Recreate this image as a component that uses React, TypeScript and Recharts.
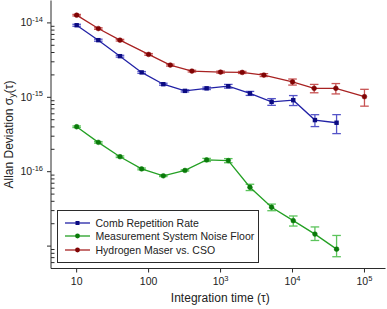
import { LineChart, Line, XAxis, YAxis, ErrorBar, Legend } from 'recharts';

const FONT = '"Liberation Sans", Arial, Helvetica, sans-serif';
const AXIS = '#2b2b2b';

// averaging times (s)
const TAU = [10, 20, 40, 80, 160, 320, 640, 1280, 2560, 5120, 10240, 20480, 40960];
const TAU_MASER = [10, 20, 40, 100, 200, 400, 1000, 2000, 4000, 10000, 20000, 40000, 100000];

const COMB = [9.3e-15, 5.86e-15, 3.57e-15, 2.16e-15, 1.5e-15, 1.22e-15, 1.32e-15, 1.41e-15, 1.13e-15, 8.7e-16, 9.15e-16, 4.94e-16, 4.55e-16];
const COMB_ERR = [0.28e-15, 0.18e-15, 0.1e-15, 0.06e-15, 0.045e-15, 0.04e-15, 0.05e-15, 0.08e-15, 0.07e-15, 0.09e-15, 0.14e-15, 0.09e-15, 0.13e-15];

const FLOOR = [4.02e-16, 2.48e-16, 1.59e-16, 1.09e-16, 8.8e-17, 1.04e-16, 1.44e-16, 1.41e-16, 6.18e-17, 3.33e-17, 2.2e-17, 1.45e-17, 9.1e-18];
const FLOOR_ERR: (number | number[])[] = [0.1e-16, 0.06e-16, 0.04e-16, 0.03e-16, 0.02e-16, 0.02e-16, 0.07e-16, 0.09e-16, 0.6e-17, 0.34e-17, 0.34e-17, [0.26e-17, 0.36e-17], [1.9e-18, 4.8e-18]];

const MASER = [1.27e-14, 8.4e-15, 5.86e-15, 3.77e-15, 2.71e-15, 2.25e-15, 2.18e-15, 2.16e-15, 1.99e-15, 1.61e-15, 1.32e-15, 1.32e-15, 1.02e-15];
const MASER_ERR = [0.03e-14, 0.2e-15, 0.15e-15, 0.1e-15, 0.08e-15, 0.06e-15, 0.07e-15, 0.07e-15, 0.09e-15, 0.15e-15, 0.17e-15, 0.21e-15, 0.26e-15];

const X_TICKS = [10, 100, 1000, 10000, 100000];
const X_LABELS = [['10', ''], ['100', ''], ['10', '3'], ['10', '4'], ['10', '5']];

const Y_MAJOR = [1e-14, 1e-15, 1e-16, 1e-17];
const Y_LABELS = ['-14', '-15', '-16', ''];
const Y_MINOR = [
  2e-15, 3e-15, 4e-15, 5e-15, 6e-15, 7e-15, 8e-15, 9e-15,
  2e-16, 3e-16, 4e-16, 5e-16, 6e-16, 7e-16, 8e-16, 9e-16,
  2e-17, 3e-17, 4e-17, 5e-17, 6e-17, 7e-17, 8e-17, 9e-17,
  6e-18, 7e-18, 8e-18, 9e-18,
];

const SERIES = [
  { key: 'comb', name: 'Comb Repetition Rate', line: '#2222a6', dot: '#0b0b82', err: '#5454c8', square: true },
  { key: 'floor', name: 'Measurement System Noise Floor', line: '#24a024', dot: '#0a7a0a', err: '#5cc45c', square: false },
  { key: 'maser', name: 'Hydrogen Maser vs. CSO', line: '#a82222', dot: '#800404', err: '#c85454', square: false },
];

const combData = TAU.map((t, i) => ({ tau: t, v: COMB[i], err: COMB_ERR[i] }));
const floorData = TAU.map((t, i) => ({ tau: t, v: FLOOR[i], err: FLOOR_ERR[i] }));
const maserData = TAU_MASER.map((t, i) => ({ tau: t, v: MASER[i], err: MASER_ERR[i] }));

const XTick = (props: any) => {
  const { x, y, payload } = props;
  const idx = X_TICKS.indexOf(payload.value);
  const [base, sup] = X_LABELS[idx] || ['', ''];
  return (
    <g>
      <line x1={x} x2={x} y1={y} y2={y + 4} stroke={AXIS} />
      <text x={x} y={y + 16.5} textAnchor="middle" fontSize={10.5} fill="#222" fontFamily={FONT}>
        {base}
        {sup && <tspan dy={-4.5} fontSize={7.5}>{sup}</tspan>}
      </text>
    </g>
  );
};

const YTick = (props: any) => {
  const { x, y, payload } = props;
  const idx = Y_MAJOR.indexOf(payload.value);
  if (idx < 0) {
    return <line x1={x} x2={x + 3.5} y1={y} y2={y} stroke={AXIS} />;
  }
  return (
    <g>
      <line x1={x - 4} x2={x} y1={y} y2={y} stroke={AXIS} />
      {Y_LABELS[idx] && (
        <text x={x - 8} y={y + 3.5} textAnchor="end" fontSize={10.5} fill="#222" fontFamily={FONT}>
          10
          <tspan dy={-4.5} fontSize={7.5}>{Y_LABELS[idx]}</tspan>
        </text>
      )}
    </g>
  );
};

const YLabel = ({ viewBox }: any) => {
  const cx = viewBox.x + 9;
  const cy = viewBox.y + viewBox.height / 2;
  return (
    <text x={cx} y={cy} transform={`rotate(-90, ${cx}, ${cy})`} textAnchor="middle" dominantBaseline="central"
      fontSize={12} fill="#222" fontFamily={FONT}>
      Allan Deviation σ<tspan dy={3} fontSize={9}>y</tspan><tspan dy={-3}>(τ)</tspan>
    </text>
  );
};

const XLabel = ({ viewBox }: any) => (
  <text x={viewBox.x + viewBox.width / 2 + 2} y={viewBox.y + 33.5} textAnchor="middle" fontSize={12} fill="#222" fontFamily={FONT}>
    Integration time (τ)
  </text>
);

const LegendBox = () => (
  <div style={{
    width: 202, height: 53, boxSizing: 'border-box', border: `1px solid ${AXIS}`, background: '#fff',
    padding: '5.5px 0 0 6.5px', fontFamily: FONT, fontSize: 10.5, color: '#222',
  }}>
    {SERIES.map(s => (
      <div key={s.key} style={{ display: 'flex', alignItems: 'center', height: 13.3 }}>
        <svg width={25} height={8} style={{ marginRight: 6 }}>
          <line x1={0} x2={25} y1={4} y2={4} stroke={s.line} strokeWidth={1.3} />
          {s.square
            ? <rect x={10.5} y={2} width={4} height={4} fill={s.dot} />
            : <circle cx={12.5} cy={4} r={2.4} fill={s.dot} />}
        </svg>
        <span style={{ whiteSpace: 'nowrap' }}>{s.name}</span>
      </div>
    ))}
  </div>
);

const squareDot = (color: string) => (p: any) => (
  <rect key={`sq-${p.index}`} x={p.cx - 2.2} y={p.cy - 2.2} width={4.4} height={4.4} fill={color} />
);

export default function App() {
  const dataSets = [combData, floorData, maserData];
  return (
    <div style={{ position: 'absolute', left: 0, top: 0, background: '#fff' }}>
      <LineChart width={387} height={309} margin={{ top: 0.5, right: 1.5, bottom: 0, left: 0 }}>
        <XAxis xAxisId="x" dataKey="tau" type="number" scale="log" domain={[4.4, 1.96e5]} allowDataOverflow
          ticks={X_TICKS} interval={0} tickSize={0} tickMargin={0} tick={<XTick />} height={40.5}
          axisLine={{ stroke: AXIS }} label={<XLabel />} />
        <XAxis xAxisId="top" orientation="top" type="number" domain={[0, 1]} height={0}
          tick={false} tickLine={false} axisLine={{ stroke: AXIS }} />
        <YAxis yAxisId="y" type="number" scale="log" domain={[5e-18, 2e-14]} allowDataOverflow
          ticks={[...Y_MAJOR, ...Y_MINOR]} interval={0} tickSize={0} tickMargin={0} tick={<YTick />} width={51}
          axisLine={{ stroke: AXIS }} label={<YLabel />} />
        <YAxis yAxisId="right" orientation="right" type="number" domain={[0, 1]} width={0}
          tick={false} tickLine={false} axisLine={{ stroke: AXIS }} />
        {SERIES.map((s, i) => (
          <Line key={s.key} xAxisId="x" yAxisId="y" data={dataSets[i]} dataKey="v" name={s.name}
            stroke={s.line} strokeWidth={1.3} isAnimationActive={false}
            dot={s.square ? squareDot(s.dot) : { r: 2.4, fill: s.dot, stroke: s.dot, strokeWidth: 0.5 }}
            activeDot={false}>
            <ErrorBar dataKey="err" width={4.3} stroke={s.err} strokeWidth={1.3} direction="y" />
          </Line>
        ))}
        <Legend layout="vertical" align="center" verticalAlign="middle" content={<LegendBox />}
          wrapperStyle={{ left: 57, top: 210, width: 202, height: 53 }} />
      </LineChart>
    </div>
  );
}
